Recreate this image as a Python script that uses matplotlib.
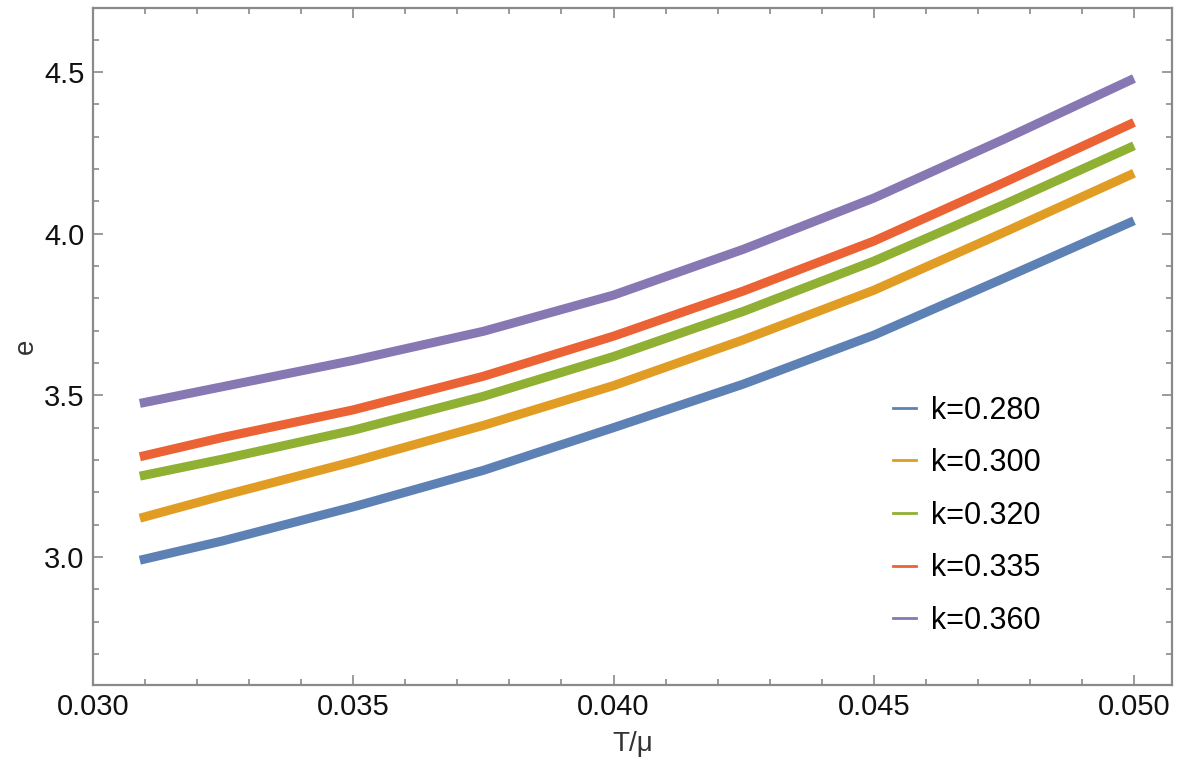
import numpy as np
import matplotlib
matplotlib.use("Agg")
import matplotlib.pyplot as plt
from matplotlib.ticker import MultipleLocator

plt.rcParams['font.family'] = ['Liberation Sans', 'DejaVu Sans']

# values
T = [0.0309, 0.0325, 0.035, 0.0375, 0.040, 0.0425, 0.045, 0.0475, 0.050]
e_280 = [2.99, 3.05, 3.155, 3.268, 3.400, 3.535, 3.686, 3.862, 4.040]
e_300 = [3.12, 3.19, 3.295, 3.407, 3.530, 3.672, 3.825, 4.004, 4.187]
e_320 = [3.25, 3.303, 3.392, 3.497, 3.620, 3.760, 3.915, 4.090, 4.272]
e_335 = [3.31, 3.370, 3.455, 3.559, 3.683, 3.823, 3.977, 4.158, 4.344]
e_360 = [3.475, 3.527, 3.608, 3.698, 3.810, 3.952, 4.110, 4.292, 4.480]

labels = ["k=0.280", "k=0.300", "k=0.320", "k=0.335", "k=0.360"]
colors = ["#5E81B5", "#E19C24", "#8FB032", "#EB6235", "#8778B3"]
series = [e_280, e_300, e_320, e_335, e_360]

fig = plt.figure(figsize=(11.77, 7.71), dpi=100)
ax = fig.add_axes([93 / 1177, 1 - 685 / 771, (1172 - 93) / 1177, (685 - 8) / 771])

for ys, c in zip(series, colors):
    ax.plot(T, ys, color=c, lw=6.5, solid_capstyle='butt', solid_joinstyle='round')

ax.set_xlim(0.030, 0.05073)
ax.set_ylim(2.604, 4.698)

ax.xaxis.set_major_locator(MultipleLocator(0.005))
ax.xaxis.set_minor_locator(MultipleLocator(0.001))
ax.yaxis.set_major_locator(MultipleLocator(0.5))
ax.yaxis.set_minor_locator(MultipleLocator(0.1))
ax.xaxis.set_major_formatter(plt.FuncFormatter(lambda v, p: f"{v:.3f}"))
ax.yaxis.set_major_formatter(plt.FuncFormatter(lambda v, p: f"{v:.1f}"))

frame_col = "#8a8a8a"
for s in ax.spines.values():
    s.set_color(frame_col)
    s.set_linewidth(1.6)
ax.tick_params(which='both', direction='in', top=True, right=True,
               color=frame_col, width=1.2, labelsize=21, labelcolor='#111111')
ax.tick_params(which='major', length=7, pad=6)
ax.tick_params(which='minor', length=4)

ax.set_xlabel("T/\u03bc", fontsize=20, color='#333333', labelpad=7)
ax.set_ylabel("e", fontsize=20, color='#333333')
ax.yaxis.set_label_coords(-0.050, 0.5)

handles = [plt.Line2D([], [], color=c, lw=2) for c in colors]
ax.legend(handles, labels, loc='center left', bbox_to_anchor=(0.741, 0.250),
          frameon=False, fontsize=22, handlelength=0.76, handletextpad=0.5,
          labelspacing=0.74, borderpad=0, borderaxespad=0)

fig.savefig("out.png", dpi=100)
